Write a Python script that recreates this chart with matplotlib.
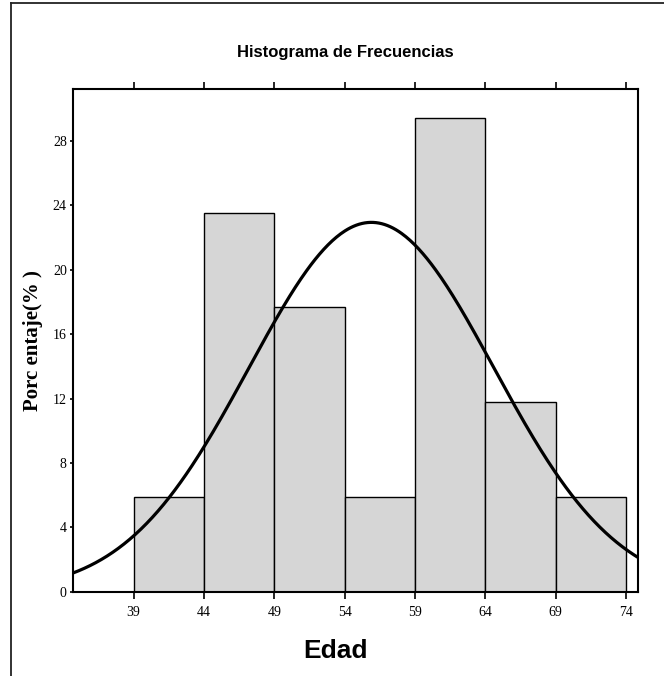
import numpy as np
import matplotlib
matplotlib.use("Agg")
import matplotlib.pyplot as plt
from matplotlib.lines import Line2D

# Datos (n = 17)
bordes = [39, 44, 49, 54, 59, 64, 69, 74]
porcentaje = [5.88, 23.53, 17.65, 5.88, 29.41, 11.76, 5.88]
ticks_y = [0, 4, 8, 12, 16, 20, 24, 28]

# Curva normal ajustada (estimada del grafico)
media = 55.9
desv = 8.7

fuente_sans = ["Liberation Sans", "DejaVu Sans"]
fuente_serif = ["Liberation Serif", "DejaVu Serif"]

fig = plt.figure(figsize=(6.64, 6.76), dpi=100)
ax = fig.add_axes([0.110, 0.1243, 0.851, 0.744])

ax.bar(bordes[:-1], porcentaje, width=5, align="edge",
       color="#d6d6d6", edgecolor="black", linewidth=1.0, zorder=2)

xs = np.linspace(34.7, 74.85, 400)
ys = 100 * 5 * np.exp(-0.5 * ((xs - media) / desv) ** 2) / (desv * np.sqrt(2 * np.pi))
ax.plot(xs, ys, color="black", linewidth=2.3, zorder=3)

ax.set_xlim(34.7, 74.85)
ax.set_ylim(0, 31.2)
ax.set_xticks(bordes)
ax.set_xticklabels([str(b) for b in bordes], family=fuente_serif, fontsize=10)
ax.set_yticks(ticks_y)
ax.set_yticklabels([str(t) for t in ticks_y], family=fuente_serif, fontsize=10)

ax.tick_params(axis="x", direction="out", length=5, width=1.2, pad=5,
               top=True, bottom=True)
ax.tick_params(axis="y", direction="out", length=2.5, width=1.2, pad=2,
               left=True, right=False)
for s in ax.spines.values():
    s.set_linewidth(1.5)

ax.set_title("Histograma de Frecuencias", family=fuente_sans, fontsize=12,
             fontweight="bold", x=0.481, pad=23)
ax.set_xlabel("Edad", family=fuente_sans, fontsize=19, fontweight="bold")
ax.xaxis.set_label_coords(0.464, -0.093)
ax.set_ylabel("Porc entaje(% )", family=fuente_serif, fontsize=15,
              fontweight="bold")
ax.yaxis.set_label_coords(-0.053, 0.5)

# marco exterior
fig.add_artist(Line2D([11 / 664, 11 / 664], [0, 1 - 3 / 676], color="#222222",
                      linewidth=1.3, transform=fig.transFigure))
fig.add_artist(Line2D([11 / 664, 1], [1 - 3 / 676, 1 - 3 / 676], color="#222222",
                      linewidth=1.3, transform=fig.transFigure))

fig.savefig("out.png", dpi=100)
